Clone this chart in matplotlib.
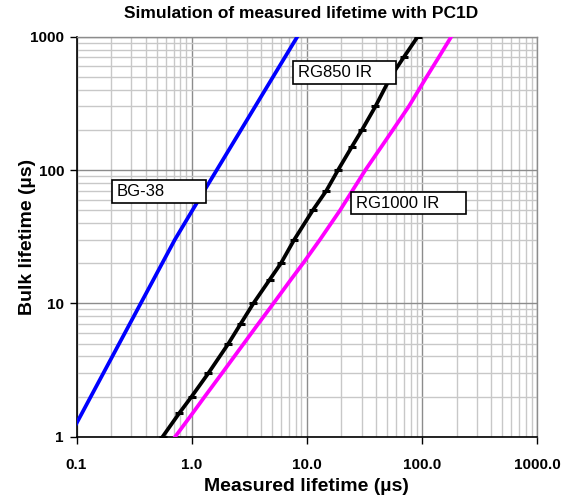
import matplotlib
matplotlib.use("Agg")
import matplotlib.pyplot as plt
from matplotlib.patches import Rectangle
from matplotlib.ticker import LogLocator, FixedLocator, FixedFormatter, NullFormatter

plt.rcParams['font.family'] = ['Liberation Sans', 'DejaVu Sans']

# Bulk lifetime values (µs) at which the simulations were evaluated
bulk = [1, 1.5, 2, 3, 5, 7, 10, 15, 20, 30, 50, 70, 100, 150, 200, 300, 500, 700, 1000]

# Measured lifetime (µs) for each filter
bg38 = [0.0867, 0.1115, 0.1332, 0.1713, 0.2351, 0.2897, 0.3614, 0.4648, 0.5554, 0.7143,
        1.017, 1.287, 1.652, 2.194, 2.684, 3.565, 5.097, 6.451, 8.279]
rg850 = [0.56, 0.78, 1.0, 1.4, 2.09, 2.66, 3.44, 4.75, 5.97, 7.78,
         11.3, 14.8, 18.7, 24.7, 30.2, 39.5, 53.6, 69.5, 91.9]
rg1000 = [0.72, 1.02, 1.30, 1.84, 2.84, 3.78, 5.14, 7.25, 9.3, 13.0,
          19.5, 24.9, 32.3, 44.6, 56.0, 77.0, 110.0, 140.0, 180.0]

x_ticks = [0.1, 1, 10, 100, 1000]
x_tick_labels = ["0.1", "1.0", "10.0", "100.0", "1000.0"]
y_ticks = [1, 10, 100, 1000]
y_tick_labels = ["1", "10", "100", "1000"]

W, H = 573, 496
fig = plt.figure(figsize=(W / 100, H / 100), dpi=100)
L, R, T, B = 76.5, 537, 36.7, 436.7
ax = fig.add_axes([L / W, 1 - B / H, (R - L) / W, (B - T) / H])

ax.set_xscale('log')
ax.set_yscale('log')
ax.set_xlim(0.1, 1000)
ax.set_ylim(1, 1000)

ax.plot(bg38, bulk, color='#0000FF', lw=2.7, zorder=3)
ax.plot(rg850, bulk, color='black', lw=2.7, marker='_', ms=6, mew=2.2, zorder=3)
ax.plot(rg1000, bulk, color='#FF00FF', lw=2.7, zorder=3)

ax.xaxis.set_major_locator(FixedLocator(x_ticks))
ax.xaxis.set_major_formatter(FixedFormatter(x_tick_labels))
ax.yaxis.set_major_locator(FixedLocator(y_ticks))
ax.yaxis.set_major_formatter(FixedFormatter(y_tick_labels))
ax.xaxis.set_minor_locator(LogLocator(base=10, subs=range(2, 10), numticks=20))
ax.yaxis.set_minor_locator(LogLocator(base=10, subs=range(2, 10), numticks=20))
ax.xaxis.set_minor_formatter(NullFormatter())
ax.yaxis.set_minor_formatter(NullFormatter())

ax.grid(True, which='minor', color='#c8c8c8', lw=1.0, zorder=0)
ax.grid(True, which='major', color='#8c8c8c', lw=1.0, zorder=0)
ax.set_axisbelow(True)

ax.tick_params(which='minor', length=0)
ax.tick_params(which='major', direction='out', length=5, width=1, color='black')
for lab in ax.get_xticklabels() + ax.get_yticklabels():
    lab.set_fontweight('bold')
    lab.set_fontsize(11)
ax.tick_params(axis='x', pad=10)
ax.tick_params(axis='y', pad=4)

for s in ['top', 'right']:
    ax.spines[s].set_color('#8c8c8c')
    ax.spines[s].set_linewidth(1)
for s in ['left', 'bottom']:
    ax.spines[s].set_color('black')
    ax.spines[s].set_linewidth(1.2)

ax.set_xlabel("Measured lifetime (µs)", fontsize=14, fontweight='bold', labelpad=5)
ax.set_ylabel("Bulk lifetime (µs)", fontsize=14, fontweight='bold')
ax.yaxis.set_label_coords((36 - L) / (R - L), 0.5)
fig.text(301 / W, 1 - 14 / H, "Simulation of measured lifetime with PC1D",
         ha='center', va='center', fontsize=12.5, fontweight='bold')

# series label boxes (pixel positions in the figure)
boxes = [("BG-38", 112, 180, 206, 203),
         ("RG850 IR", 293, 61, 396, 84),
         ("RG1000 IR", 351, 192, 466, 214)]
for text, x0, y0, x1, y1 in boxes:
    rect = Rectangle((x0 / W, 1 - y1 / H), (x1 - x0) / W, (y1 - y0) / H,
                     transform=fig.transFigure, facecolor='white',
                     edgecolor='black', lw=1.2, zorder=10, clip_on=False)
    ax.add_patch(rect)
    ax.text((x0 + 5) / W, 1 - ((y0 + y1) / 2) / H, text, transform=fig.transFigure,
            ha='left', va='center', fontsize=12, zorder=11, clip_on=False)

fig.savefig("out.png", dpi=100)
